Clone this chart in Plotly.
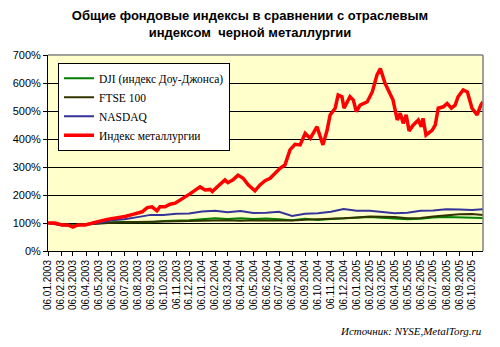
import pandas as pd
import plotly.graph_objects as go

# Index of the steel industry (base 06.01.2003 = 100%)
metal_dates = [
    "2003-01-06", "2003-01-22", "2003-02-08", "2003-02-22", "2003-03-06", "2003-03-18",
    "2003-04-04", "2003-04-20", "2003-05-04", "2003-05-26", "2003-06-14", "2003-07-07",
    "2003-07-26", "2003-08-17", "2003-08-29", "2003-09-09", "2003-09-21", "2003-09-28",
    "2003-10-10", "2003-10-22", "2003-11-03", "2003-11-15", "2003-12-08", "2004-01-01",
    "2004-01-13", "2004-01-25", "2004-01-30", "2004-02-13", "2004-02-29", "2004-03-07",
    "2004-03-19", "2004-03-31", "2004-04-12", "2004-04-24", "2004-05-10", "2004-05-22",
    "2004-06-03", "2004-06-15", "2004-06-27", "2004-07-09", "2004-07-20", "2004-08-01",
    "2004-08-13", "2004-08-25", "2004-09-06", "2004-09-18", "2004-10-04", "2004-10-18",
    "2004-10-28", "2004-11-04", "2004-11-16", "2004-11-23", "2004-12-02", "2004-12-07",
    "2004-12-21", "2004-12-29", "2005-01-05", "2005-01-14", "2005-01-31", "2005-02-12",
    "2005-02-23", "2005-03-03", "2005-03-14", "2005-03-26", "2005-04-02", "2005-04-12",
    "2005-04-19", "2005-04-26", "2005-05-03", "2005-05-10", "2005-05-20", "2005-06-01",
    "2005-06-08", "2005-06-12", "2005-06-19", "2005-07-04", "2005-07-11", "2005-07-18",
    "2005-07-30", "2005-08-08", "2005-08-18", "2005-08-27", "2005-09-03", "2005-09-15",
    "2005-09-25", "2005-10-06", "2005-10-18", "2005-10-27", "2005-11-01",
]
metal_values = [
    100, 100, 93, 93, 85, 93,
    93, 98, 105, 113, 117, 123,
    131, 140, 155, 158, 144, 158,
    158, 167, 171, 182, 204, 229,
    218, 220, 212, 232, 254, 244,
    254, 271, 260, 236, 215, 236,
    251, 260, 278, 296, 307, 361,
    381, 379, 420, 402, 444, 379,
    432, 486, 510, 557, 551, 510,
    551, 539, 498, 521, 533, 569,
    629, 652, 599, 563, 539, 468,
    492, 456, 486, 429, 450, 468,
    444, 474, 414, 432, 450, 510,
    515, 527, 510, 521, 551, 575,
    568, 510, 486, 521, 533,
]

# Broad market indices, sampled on the 6th of each month
index_dates = [
    "2003-01-06", "2003-02-06", "2003-03-06", "2003-04-06", "2003-05-06", "2003-06-06",
    "2003-07-06", "2003-08-06", "2003-09-06", "2003-10-06", "2003-11-06", "2003-12-06",
    "2004-01-06", "2004-02-06", "2004-03-06", "2004-04-06", "2004-05-06", "2004-06-06",
    "2004-07-06", "2004-08-06", "2004-09-06", "2004-10-06", "2004-11-06", "2004-12-06",
    "2005-01-06", "2005-02-06", "2005-03-06", "2005-04-06", "2005-05-06", "2005-06-06",
    "2005-07-06", "2005-08-06", "2005-09-06", "2005-10-06", "2005-11-01",
]
dji_values = [
    100, 95, 92, 96, 100, 103, 104, 104, 103, 107, 108, 110,
    113, 117, 114, 117, 114, 116, 113, 110, 115, 111, 114, 117,
    119, 121, 119, 116, 113, 115, 120, 121, 119, 117, 118,
]
ftse_values = [
    100, 94, 90, 95, 99, 101, 103, 104, 103, 104, 105, 107,
    108, 109, 110, 108, 110, 109, 108, 109, 112, 113, 115, 117,
    120, 123, 122, 121, 117, 118, 123, 127, 131, 132, 129,
]
nasdaq_values = [
    100, 92, 89, 94, 100, 110, 113, 121, 129, 129, 133, 134,
    141, 144, 138, 143, 136, 137, 140, 125, 133, 135, 140, 150,
    144, 144, 141, 135, 137, 144, 145, 149, 148, 146, 149,
]

# Monthly category ticks
tick_dates = pd.date_range("2003-01-06", periods=34, freq=pd.DateOffset(months=1))
tick_labels = [d.strftime("%d.%m.%Y") for d in tick_dates]

y_ticks = list(range(0, 701, 100))
y_labels = [f"{v}%" for v in y_ticks]

fig = go.Figure()
fig.add_trace(go.Scatter(x=index_dates, y=dji_values, mode="lines",
                         name="DJI (индекс Доу-Джонса)",
                         line=dict(color="#008000", width=2)))
fig.add_trace(go.Scatter(x=index_dates, y=ftse_values, mode="lines",
                         name="FTSE 100",
                         line=dict(color="#333300", width=2)))
fig.add_trace(go.Scatter(x=index_dates, y=nasdaq_values, mode="lines",
                         name="NASDAQ",
                         line=dict(color="#333399", width=2)))
fig.add_trace(go.Scatter(x=metal_dates, y=metal_values, mode="lines",
                         name="Индекс металлургии",
                         line=dict(color="#FF0000", width=3.5)))

fig.update_layout(
    width=500, height=347,
    margin=dict(l=48, r=17, t=55, b=96),
    paper_bgcolor="white",
    plot_bgcolor="#FFFFCC",
    title=dict(
        text="Общие фондовые индексы в сравнении с отраслевым<br>индексом  черной металлургии",
        x=0.5, xanchor="center", y=0.942, yanchor="top",
        font=dict(family="Liberation Sans, Arial", size=13, color="black", weight="bold"),
    ),
    showlegend=True,
    legend=dict(
        x=0.023, y=0.96, xanchor="left", yanchor="top",
        bgcolor="white", bordercolor="black", borderwidth=1,
        font=dict(family="Liberation Serif, Times New Roman", size=11.5, color="black"),
        tracegroupgap=0, itemwidth=30,
    ),
    xaxis=dict(
        type="date",
        range=["2003-01-06", "2005-11-01"],
        tickmode="array", tickvals=tick_dates, ticktext=tick_labels,
        tickangle=-90,
        tickfont=dict(family="Liberation Sans, Arial", size=10, color="black"),
        ticks="outside", ticklen=4, tickcolor="black",
        showgrid=False, showline=True, linecolor="black", linewidth=1,
        zeroline=False,
    ),
    yaxis=dict(
        range=[0, 700],
        tickmode="array", tickvals=y_ticks, ticktext=y_labels,
        tickfont=dict(family="Liberation Sans, Arial", size=11, color="black"),
        ticks="outside", ticklen=4, tickcolor="black",
        showgrid=True, gridcolor="black", gridwidth=1,
        showline=True, linecolor="black", linewidth=1,
        zeroline=False,
    ),
    shapes=[
        dict(type="line", xref="paper", yref="paper", x0=0, x1=1, y0=1, y1=1,
             line=dict(color="#808080", width=1.5)),
        dict(type="line", xref="paper", yref="paper", x0=1, x1=1, y0=0, y1=1,
             line=dict(color="#808080", width=1.5)),
    ],
    annotations=[
        dict(text="<i>Источник: NYSE,MetalTorg.ru</i>", xref="paper", yref="paper",
             x=1.003, y=-0.41, xanchor="right", yanchor="middle", showarrow=False,
             font=dict(family="Liberation Serif, Times New Roman", size=11, color="black")),
    ],
)

fig.write_html("out.html")
